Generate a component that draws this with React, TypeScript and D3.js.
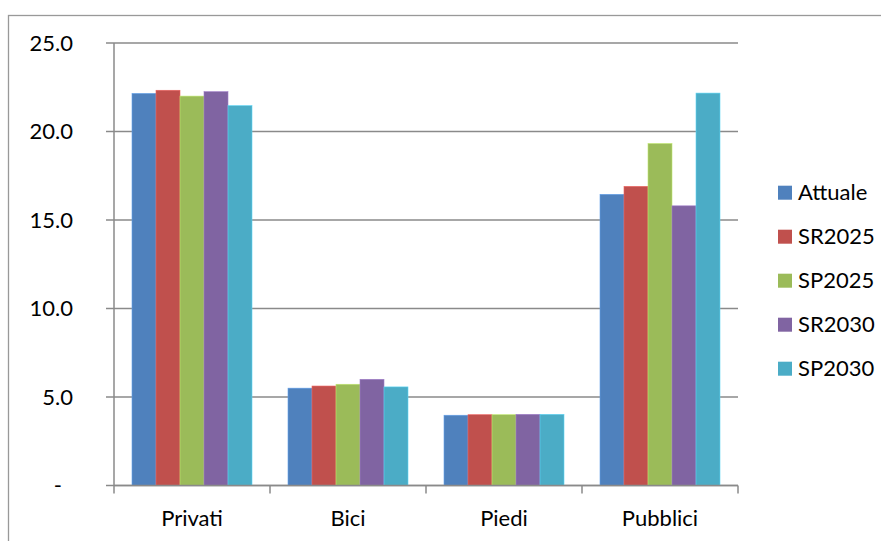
import React from "react";
import * as d3 from "d3";

const categories = ["Privati", "Bici", "Piedi", "Pubblici"];
const seriesNames = ["Attuale", "SR2025", "SP2025", "SR2030", "SP2030"];
const attuale = [22.15, 5.5, 3.97, 16.45];
const sr2025 = [22.33, 5.62, 4.0, 16.9];
const sp2025 = [22.0, 5.72, 4.0, 19.32];
const sr2030 = [22.25, 6.0, 4.02, 15.8];
const sp2030 = [21.46, 5.57, 4.02, 22.17];
const colors = ["#4F81BD", "#C0504D", "#9BBB59", "#8064A2", "#4BACC6"];
const yTicks = [0, 5, 10, 15, 20, 25];

const seriesValues = [attuale, sr2025, sp2025, sr2030, sp2030];

export default function App() {
  const W = 881, H = 541;
  const left = 114, right = 738, top = 43, bottom = 485.5;
  const font = "Lato, 'Open Sans', sans-serif";
  const x0 = d3.scaleBand().domain(categories).range([left, right]).paddingInner(0).paddingOuter(0);
  const bw = x0.bandwidth();
  const gap = bw * 1.5 / 6.5;
  const x1 = d3.scaleBand().domain(seriesNames).range([gap / 2, bw - gap / 2]).padding(0);
  const y = d3.scaleLinear().domain([0, 25]).range([bottom, top]);
  const fmt = (v: number) => (v === 0 ? "-" : d3.format(".1f")(v));
  const gridColor = "#8a8a8a";

  return (
    <svg width={W} height={H} style={{ position: "absolute", left: 0, top: 0, background: "#fff" }}>
      <rect x={8.5} y={15.5} width={W + 10} height={H + 10} fill="#fff" stroke="#999" strokeWidth={1.3} />
      {yTicks.map((t) => (
        <g key={t}>
          <line x1={106} x2={t === 0 ? right : right} y1={y(t)} y2={y(t)} stroke={gridColor} strokeWidth={1.5} />
          <text
            x={t === 0 ? 62 : 73}
            y={y(t)}
            dy="0.35em"
            textAnchor="end"
            fontFamily={font}
            fontSize={22}
            fill="#000"
          >
            {fmt(t)}
          </text>
        </g>
      ))}
      {categories.map((c, ci) => (
        <g key={c} transform={`translate(${x0(c)},0)`}>
          {seriesNames.map((s, si) => {
            const v = seriesValues[si][ci];
            return (
              <rect
                key={s}
                x={x1(s)}
                y={y(v)}
                width={x1.bandwidth()}
                height={y(0) - y(v)}
                fill={colors[si]}
                stroke={d3.color(colors[si])!.brighter(0.6).toString()}
                strokeWidth={0.6}
              />
            );
          })}
          <text
            x={bw / 2}
            y={526}
            textAnchor="middle"
            fontFamily={font}
            fontSize={22}
            fill="#000"
          >
            {c}
          </text>
        </g>
      ))}
      <line x1={left} x2={left} y1={top} y2={bottom} stroke={gridColor} strokeWidth={1.5} />
      <line x1={left} x2={right} y1={bottom} y2={bottom} stroke={gridColor} strokeWidth={1.5} />
      {[...categories.map((c) => x0(c)!), right].map((xv, i) => (
        <line key={i} x1={xv} x2={xv} y1={bottom} y2={bottom + 8} stroke={gridColor} strokeWidth={1.5} />
      ))}
      {seriesNames.map((s, i) => (
        <g key={s} transform={`translate(778, ${192.7 + i * 44})`}>
          <rect x={0} y={-7} width={14} height={14} fill={colors[i]} />
          <text x={20} y={0} dy="0.35em" fontFamily={font} fontSize={22} fill="#000">
            {s}
          </text>
        </g>
      ))}
    </svg>
  );
}
